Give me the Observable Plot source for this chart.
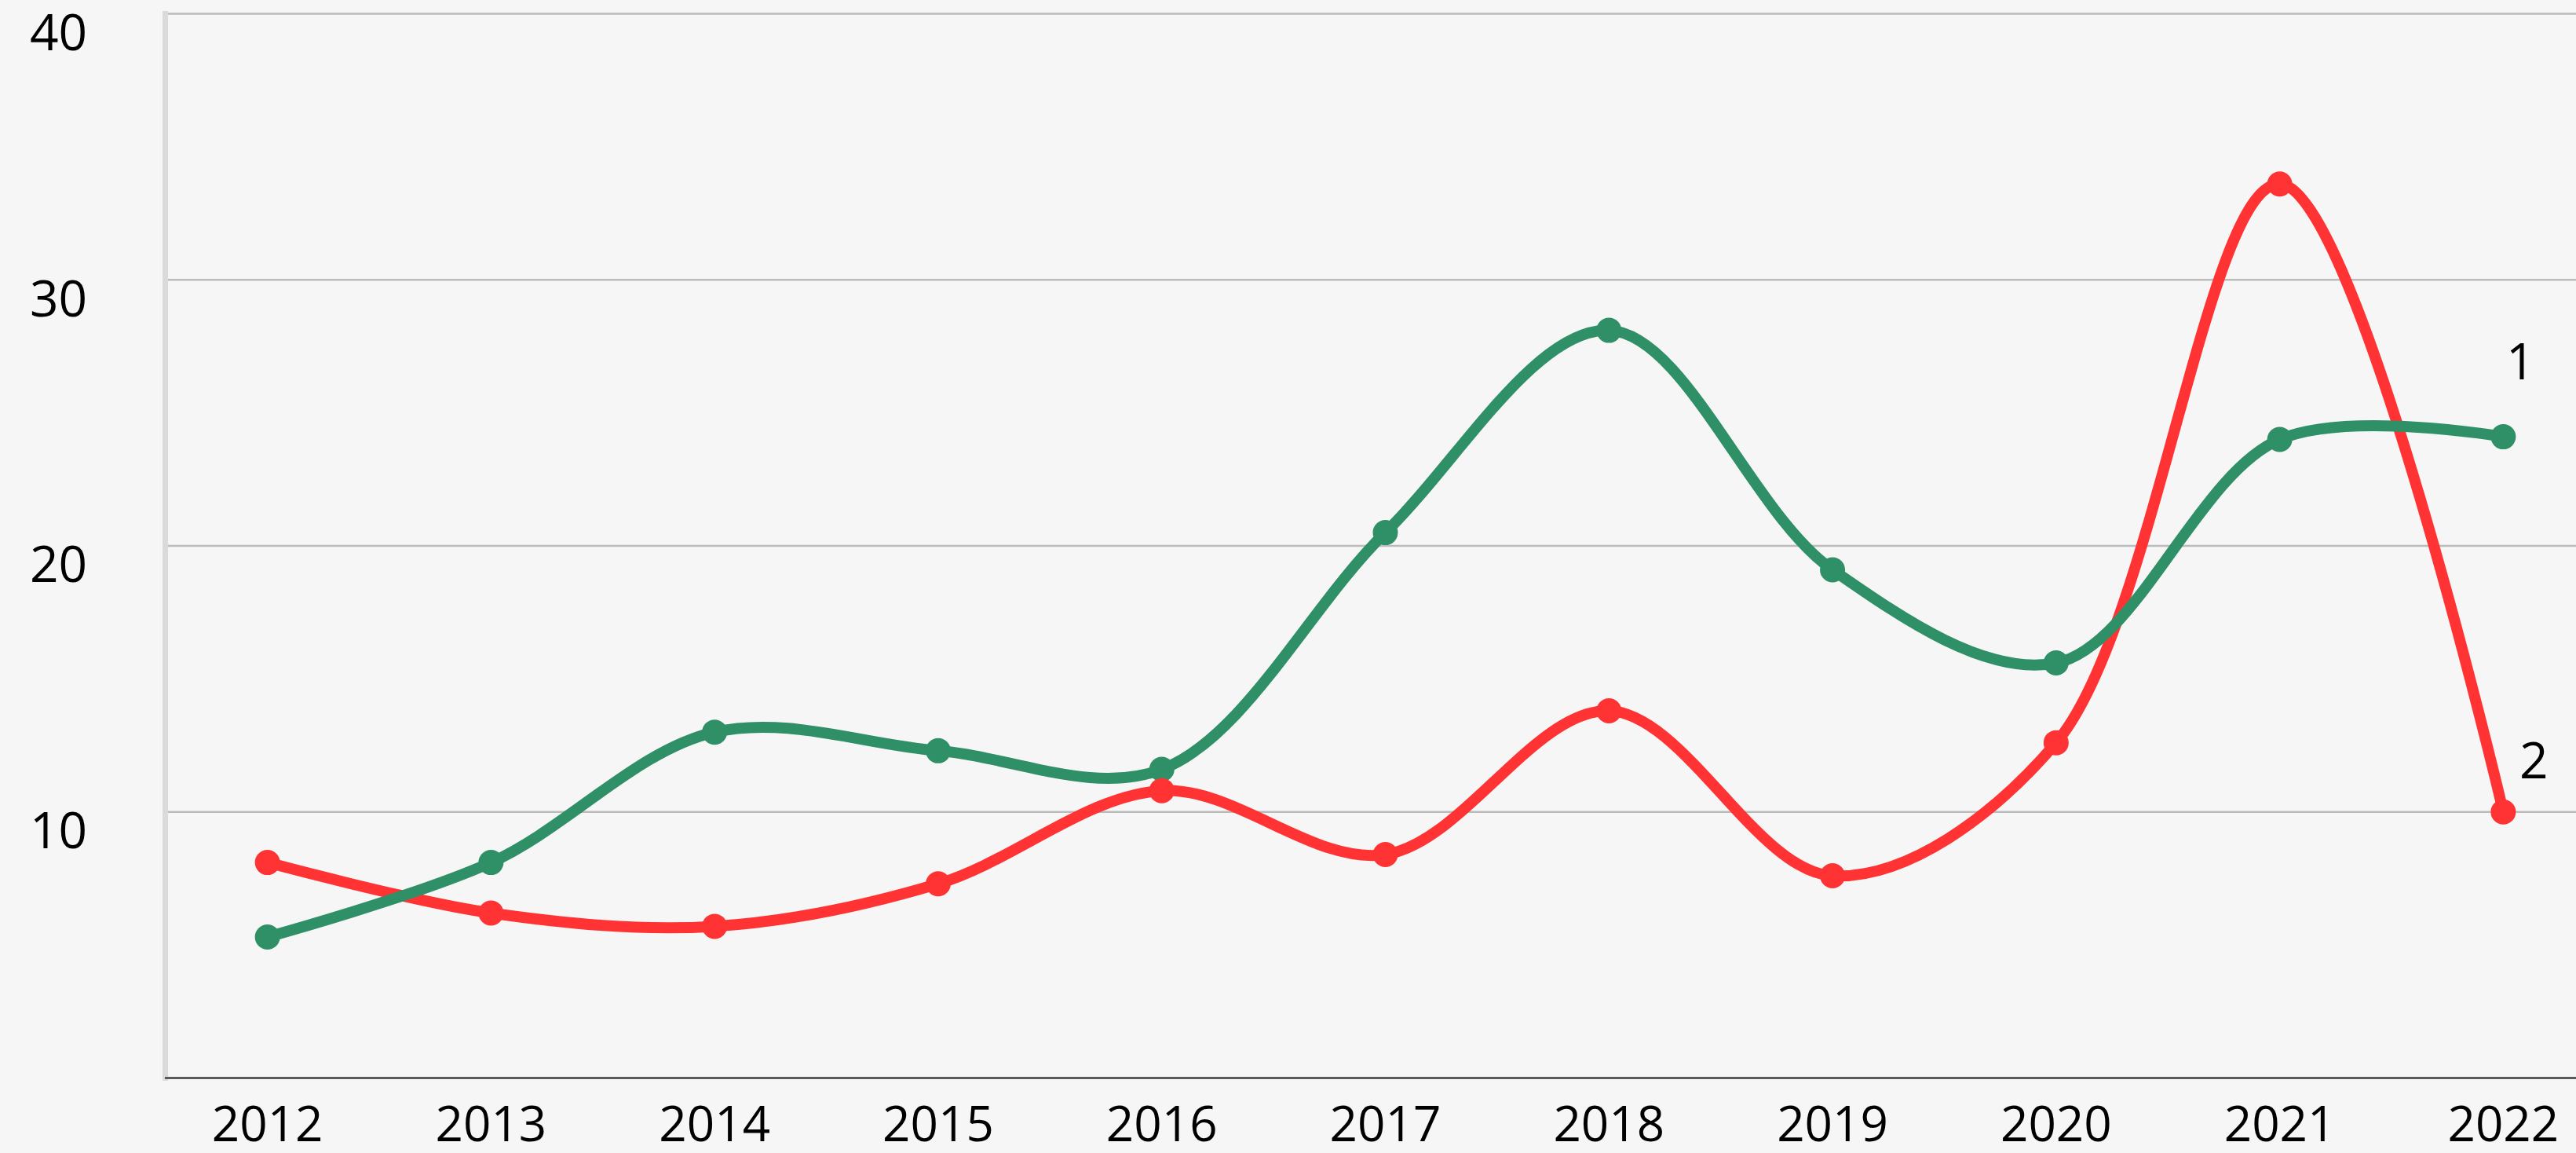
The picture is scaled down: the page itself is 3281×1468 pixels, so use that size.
<!DOCTYPE html>
<html>
<head>
<meta charset="utf-8">
<script src="https://cdn.jsdelivr.net/npm/d3@7"></script>
<script src="https://cdn.jsdelivr.net/npm/@observablehq/plot@0.6"></script>
<style>
  html, body { margin: 0; padding: 0; background: #f6f6f6; }
  #chart svg { display: block; overflow: visible; }
</style>
</head>
<body>
<div id="chart"></div>
<script>
// ---- data ----
const years = [2012, 2013, 2014, 2015, 2016, 2017, 2018, 2019, 2020, 2021, 2022];
const series1 = [5.3, 8.1, 13.0, 12.3, 11.6, 20.5, 28.1, 19.1, 15.6, 24.0, 24.1];
const series2 = [8.1, 6.2, 5.7, 7.3, 10.8, 8.4, 13.8, 7.6, 12.6, 33.6, 10.0];
const seriesNames = ["1", "2"];
const yTicks = [10, 20, 30, 40];

const colors = {"1": "#2f8f66", "2": "#ff3333"};

const rows = [];
years.forEach((yr, i) => {
  rows.push({year: yr, value: series1[i], series: seriesNames[0]});
  rows.push({year: yr, value: series2[i], series: seriesNames[1]});
});
const lastRows = seriesNames.map(s => rows.filter(r => r.series === s).at(-1));

const font = "'Open Sans', sans-serif";

const chart = Plot.plot({
  width: 3281,
  height: 1468,
  marginLeft: 210,
  marginRight: 0,
  marginTop: 17,
  marginBottom: 96,
  style: {background: "#f6f6f6", fontFamily: font, fontSize: "64px", color: "#000", overflow: "visible"},
  x: {type: "linear", domain: [2011.543, 2022.327]},
  y: {domain: [0, 40]},
  marks: [
    Plot.gridY(yTicks, {stroke: "#bbbbbb", strokeOpacity: 1, strokeWidth: 2.5}),
    Plot.frame({anchor: "left", stroke: "#dadada", strokeWidth: 7}),
    Plot.ruleY([0], {stroke: "#5a5a5a", strokeWidth: 3}),
    Plot.axisY(yTicks, {tickSize: 0, tickPadding: 136, textAnchor: "middle", dy: 26, fontSize: 64, fill: "#000", label: null}),
    Plot.axisX(years, {tickSize: 0, tickPadding: 36, tickFormat: "d", fontSize: 62, fill: "#000", label: null}),
    Plot.line(rows.filter(r => r.series === "2"), {x: "year", y: "value", stroke: colors["2"], strokeWidth: 14, curve: "catmull-rom"}),
    Plot.line(rows.filter(r => r.series === "1"), {x: "year", y: "value", stroke: colors["1"], strokeWidth: 14, curve: "catmull-rom"}),
    Plot.dot(rows, {x: "year", y: "value", r: 16, fill: d => colors[d.series], stroke: "none"}),
    Plot.text(lastRows.filter(d => d.series === "1"), {x: "year", y: "value", text: "series", dx: 22, dy: -94, fontSize: 64, fill: "#000"}),
    Plot.text(lastRows.filter(d => d.series === "2"), {x: "year", y: "value", text: "series", dx: 39, dy: -63, fontSize: 64, fill: "#000"})
  ]
});
document.getElementById("chart").appendChild(chart);
</script>
</body>
</html>
